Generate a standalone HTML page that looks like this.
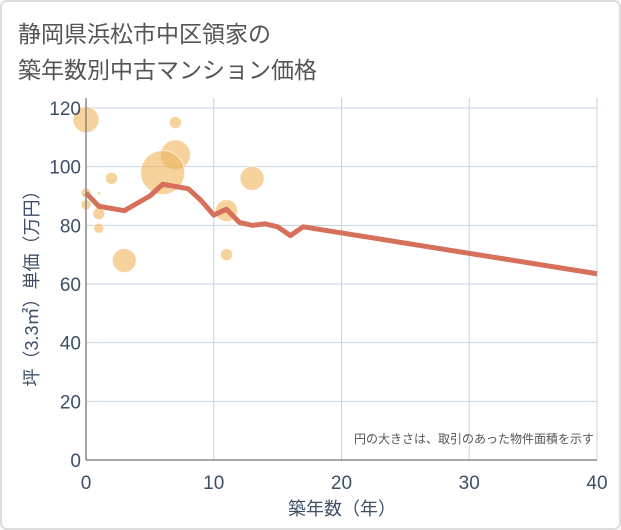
<!DOCTYPE html>
<html><head><meta charset="utf-8"><style>
body{margin:0;background:#fff;}
svg{display:block;font-family:"Liberation Sans","Noto Sans CJK JP",sans-serif;}
</style></head><body>
<svg id="c" width="621" height="530">
<rect x="1" y="1" width="619" height="528" rx="6" fill="#fff" stroke="#ddd" stroke-width="2"/>
<text x="18" y="42" font-size="23" fill="#555">静岡県浜松市中区領家の</text>
<text x="18" y="78" font-size="23" fill="#555">築年数別中古マンション価格</text>
<g id="grid"></g><g id="bubbles"></g><g id="line"></g><g id="axes"></g>
<text x="594" y="443" font-size="12" fill="#555" text-anchor="end">円の大きさは、取引のあった物件面積を示す</text>
<text x="342" y="515" font-size="18" fill="#3d5068" text-anchor="middle">築年数（年）</text>
<text transform="translate(38,284) rotate(-90)" font-size="18" fill="#3d5068" text-anchor="middle">坪（3.3㎡）単価（万円）</text>
</svg>
<script>
const xTicks=[0,10,20,30,40];
const yTicks=[0,20,40,60,80,100,120];
const lineYears=[0,1,3,5,6,8,9,10,11,12,13,14,15,16,17,40];
const linePrices=[91,86.5,85,90,94,92.5,88.5,83.5,85.5,81,80,80.5,79.5,76.5,79.5,63.5];
const bubbleYears=[0,7,7,6,2,0,0,1,1,3,11,11,13,1];
const bubblePrices=[116,115,104,98,96,91,87,84,79,68,85,70,96,91];
const bubbleRadii=[13,6,15,22,6,5,5,6,5,12,11,6,12,1.5];
const X=v=>86+v*(597-86)/40, Y=v=>460-v*(460-108)/120;
const NS="http://www.w3.org/2000/svg";
function mk(p,t,a){const e=document.createElementNS(NS,t);for(const k in a)e.setAttribute(k,a[k]);p.appendChild(e);return e;}
const g=document.getElementById('grid'),ax=document.getElementById('axes');
mk(g,'rect',{x:86,y:98,width:511,height:362,fill:'#fff'});
xTicks.forEach(v=>{const l=mk(g,'line',{x1:X(v),x2:X(v),y1:98,y2:460,stroke:'#c5d3e0','stroke-width':1});


const t=mk(ax,'text',{x:X(v),y:489,'font-size':19,fill:'#3d5068','text-anchor':'middle'});t.textContent=v;

});
yTicks.forEach(v=>{const l=mk(g,'line',{x1:86,x2:597,y1:Y(v),y2:Y(v),stroke:'#c5d3e0','stroke-width':1});


const t=mk(ax,'text',{x:81,y:Y(v)+7,'font-size':19,fill:'#3d5068','text-anchor':'end'});t.textContent=v;

});
const a1=mk(ax,'line',{x1:86,x2:86,y1:98,y2:460,stroke:'#888','stroke-width':1.5});


const a2=mk(ax,'line',{x1:86,x2:597,y1:460,y2:460,stroke:'#888','stroke-width':1.5});


const b=document.getElementById('bubbles');
bubbleYears.forEach((yr,i)=>{const c=mk(b,'circle',{cx:X(yr),cy:Y(bubblePrices[i]),r:bubbleRadii[i],fill:'rgba(240,180,90,0.6)',stroke:'rgba(255,255,255,0.6)','stroke-width':1});

});
const p=mk(document.getElementById('line'),'polyline',{points:lineYears.map((y,i)=>X(y)+','+Y(linePrices[i])).join(' '),fill:'none',stroke:'#d6705a','stroke-width':5,'stroke-linejoin':'round'});


</script>
</body></html>
